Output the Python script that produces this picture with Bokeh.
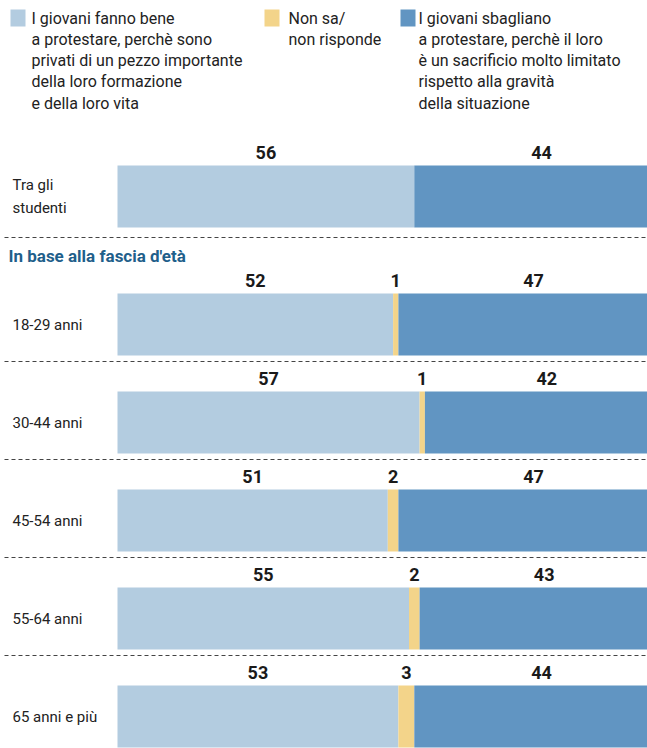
from bokeh.plotting import figure
from bokeh.models import Range1d
from bokeh.core.properties import value
from bokeh.embed import file_html
from bokeh.resources import INLINE

# ---- data ----
categories = ["Tra gli\nstudenti", "18-29 anni", "30-44 anni", "45-54 anni", "55-64 anni", "65 anni e più"]
favor = [56, 52, 57, 51, 55, 53]
dontknow = [0, 1, 1, 2, 2, 3]
against = [44, 47, 42, 47, 43, 44]
legend_labels = [
    "I giovani fanno bene\na protestare, perchè sono\nprivati di un pezzo importante\ndella loro formazione\ne della loro vita",
    "Non sa/\nnon risponde",
    "I giovani sbagliano\na protestare, perchè il loro\nè un sacrificio molto limitato\nrispetto alla gravità\ndella situazione",
]
section_title = "In base alla fascia d'età"

# ---- style ----
C_FAVOR = "#b3cce0"
C_DK = "#f3d48a"
C_AGAINST = "#6195c2"
C_TITLE = "#1f5f8b"
FONT = "Roboto"

W, H = 647, 748
BAR_LEFT_PX = 117
SCALE = (W - BAR_LEFT_PX) / 100.0


def px(xp):
    return (xp - BAR_LEFT_PX) / SCALE


p = figure(width=W, height=H, output_backend="svg", toolbar_location=None,
           x_range=Range1d(px(0), px(W)), y_range=Range1d(H, 0),
           min_border=0)
p.axis.visible = False
p.grid.visible = False
p.outline_line_color = None
p.background_fill_color = "white"
p.border_fill_color = "white"

# row layout
tops = [165] + [293 + i * 98 for i in range(5)]
bar_h = 62
centers = [t + bar_h / 2 for t in tops]

left1 = [0] * len(favor)
right1 = favor
left2 = favor
right2 = [f + d for f, d in zip(favor, dontknow)]
left3 = right2
right3 = [r + a for r, a in zip(right2, against)]

p.hbar(y=centers, left=left1, right=right1, height=bar_h, color=C_FAVOR, line_color=None)
p.hbar(y=centers, left=left2, right=right2, height=bar_h, color=C_DK, line_color=None)
p.hbar(y=centers, left=left3, right=right3, height=bar_h, color=C_AGAINST, line_color=None)

# number labels
lab_x, lab_y, lab_t = [], [], []
for i in range(len(favor)):
    ly = tops[i] - 13
    lab_x.append(favor[i] / 2); lab_y.append(ly); lab_t.append(str(favor[i]))
    if dontknow[i] > 0:
        lab_x.append(favor[i] + dontknow[i] / 2); lab_y.append(ly); lab_t.append(str(dontknow[i]))
    lab_x.append(right2[i] + against[i] / 2 + 2); lab_y.append(ly); lab_t.append(str(against[i]))
p.text(x=lab_x, y=lab_y, text=lab_t, text_align="center", text_baseline="middle",
       text_font=value(FONT), text_font_style="bold", text_font_size="18px", text_color="#1a1a1a")

# category labels
p.text(x=[px(12)] * len(categories), y=centers, text=categories, text_align="left",
       text_baseline="middle", text_font=value(FONT), text_font_size="15px",
       text_color="#222222", text_line_height=1.28)

# dashed separators
sep_y = [tops[0] + bar_h + 10] + [tops[i] + bar_h + 6 for i in range(1, len(tops) - 1)]
p.segment(x0=[px(4)] * len(sep_y), x1=[px(W)] * len(sep_y), y0=sep_y, y1=sep_y,
          line_color="#444444", line_width=1.2, line_dash="4 3")

# section title
p.text(x=[px(8)], y=[255], text=[section_title], text_align="left", text_baseline="middle",
       text_font=value(FONT), text_font_style="bold", text_font_size="17px", text_color=C_TITLE)

# legend
sw_x = [10, 264, 400]
txt_x = [31, 288, 418]
sw_colors = [C_FAVOR, C_DK, C_AGAINST]
p.quad(left=[px(x) for x in sw_x], right=[px(x + 15) for x in sw_x],
       top=[9] * 3, bottom=[26] * 3, color=sw_colors, line_color=None)
p.text(x=[px(x) for x in txt_x], y=[8] * 3, text=legend_labels, text_align="left",
       text_baseline="top", text_font=value(FONT), text_font_size="16px",
       text_color="#222222", text_line_height=1.12)

open("out.html", "w").write(file_html(p, INLINE))
